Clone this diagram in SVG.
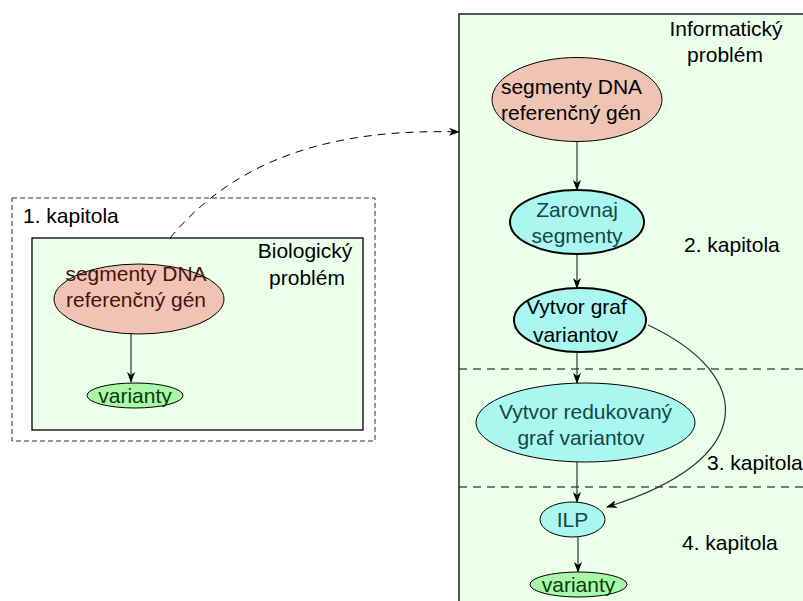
<svg xmlns="http://www.w3.org/2000/svg" width="803" height="601" viewBox="0 0 803 601">
<defs>
<marker id="ah" markerWidth="11" markerHeight="8" refX="10" refY="4" orient="auto" markerUnits="userSpaceOnUse">
<path d="M0,0 L11,4 L0,8 L3,4 Z" fill="#000"/>
</marker>
<style>
text{font-family:"Liberation Sans",Arial,sans-serif;font-size:21px;}
.c{text-anchor:middle;}
.box{fill:#ebffea;stroke:#000;stroke-width:1.3;}
.pink{fill:#f0c4b4;stroke:#000;stroke-width:1;}
.cyan{fill:#aaf7f0;stroke:#000;stroke-width:1;}
.cyanb{fill:#aaf7f0;stroke:#000;stroke-width:2;}
.green{fill:#a8f8a8;stroke:#000;stroke-width:1;}
.tp{fill:#4a1010;}
.tc{fill:#124848;}
.tg{fill:#0a3a0a;}
.edge{fill:none;stroke:#333;stroke-width:1.2;marker-end:url(#ah);}
.dash{fill:none;stroke:#000;stroke-width:1;stroke-dasharray:8,6;}
</style>
</defs>
<rect width="803" height="601" fill="#fff"/>
<g id="chapter1">
<rect x="12" y="198" width="363" height="243" fill="none" stroke="#333" stroke-width="1" stroke-dasharray="5,3"/>
<text x="23" y="223">1. kapitola</text>
</g>
<g id="bio">
<rect class="box" x="32" y="238" width="331" height="192"/>
<text class="c" x="305" y="258">Biologický</text>
<text class="c" x="307" y="285">problém</text>
</g>
<g id="info">
<rect class="box" x="459" y="14" width="360" height="600"/>
<text class="c" x="726" y="36">Informatický</text>
<text class="c" x="725" y="62">problém</text>
<line class="dash" x1="459" y1="369" x2="803" y2="369"/>
<line class="dash" x1="459" y1="487" x2="803" y2="487"/>
<text x="684" y="252">2. kapitola</text>
<text x="707" y="470">3. kapitola</text>
<text x="682" y="550">4. kapitola</text>
</g>
<g id="connectors">
<path class="edge" d="M131,334 L131,382"/>
<path class="edge" d="M577,142 L577,190"/>
<path class="edge" d="M577,254 L577,288"/>
<path class="edge" d="M577,352 L577,383"/>
<path class="edge" d="M577,462 L577,502"/>
<path class="edge" d="M578,537 L578,572"/>
<path class="edge" d="M648,325 C755,375 760,460 607,507"/>
<path fill="none" stroke="#000" stroke-width="1" stroke-dasharray="8,6" marker-end="url(#ah)" d="M170,238 C235,160 330,128 459,132"/>
</g>
<g id="bio_seg">
<ellipse class="pink" cx="139" cy="299" rx="85" ry="35"/>
<text class="c tp" x="136" y="281">segmenty DNA</text>
<text class="c tp" x="136" y="307">referenčný gén</text>
</g>
<g id="bio_var">
<ellipse class="green" cx="135" cy="395.5" rx="48" ry="12.5"/>
<text class="c tg" x="135" y="403">varianty</text>
</g>
<g id="info_seg">
<ellipse class="pink" cx="577" cy="99.5" rx="85" ry="42"/>
<text class="c" x="571.5" y="94">segmenty DNA</text>
<text class="c" x="571" y="120">referenčný gén</text>
</g>
<g id="zarovnaj">
<ellipse class="cyanb" cx="577" cy="222" rx="67" ry="32"/>
<text class="c tc" x="577" y="217">Zarovnaj</text>
<text class="c tc" x="577" y="243">segmenty</text>
</g>
<g id="vytvor">
<ellipse class="cyanb" cx="580" cy="320" rx="66" ry="32"/>
<text class="c" x="576.5" y="314">Vytvor graf</text>
<text class="c" x="575.5" y="342">variantov</text>
</g>
<g id="redukovany">
<ellipse class="cyan" cx="585.5" cy="422.5" rx="109.5" ry="39.5"/>
<text class="c tc" x="585.5" y="419">Vytvor redukovaný</text>
<text class="c tc" x="581" y="445">graf variantov</text>
</g>
<g id="ilp">
<ellipse class="cyan" cx="572.5" cy="519.5" rx="32.5" ry="17.5"/>
<text class="c tc" x="572.5" y="527">ILP</text>
</g>
<g id="info_var">
<ellipse class="green" cx="578.5" cy="584.5" rx="48.5" ry="12.5"/>
<text class="c tg" x="578.5" y="592">varianty</text>
</g>
</svg>
